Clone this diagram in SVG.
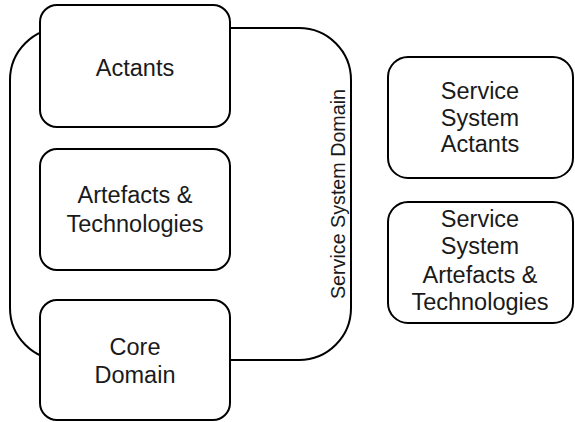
<svg xmlns="http://www.w3.org/2000/svg" width="575" height="422" viewBox="0 0 575 422">
<style>
.box{fill:#fff;stroke:#000;stroke-width:2}
.dom{fill:none;stroke:#000;stroke-width:2}
text{font-family:"Liberation Sans",Arial,sans-serif;font-size:23.5px;fill:#1a1a1a;text-anchor:middle}
.v{font-size:19.7px}
</style>
<rect width="575" height="422" fill="#fff"/>
<g id="service-system-domain">
<rect class="dom" x="10" y="28" width="341" height="332" rx="52" ry="52"/>
<text class="v" transform="translate(345,194) rotate(-90)">Service System Domain</text>
</g>
<g id="connectors"></g>
<g id="actants">
<rect class="box" x="40" y="5" width="190" height="122" rx="17"/>
<text x="135" y="76">Actants</text>
</g>
<g id="artefacts">
<rect class="box" x="40" y="149" width="190" height="121" rx="17"/>
<text x="135" y="203">Artefacts &amp;</text>
<text x="135" y="232">Technologies</text>
</g>
<g id="core-domain">
<rect class="box" x="40" y="300" width="190" height="120" rx="17"/>
<text x="135" y="355">Core</text>
<text x="135" y="383">Domain</text>
</g>
<g id="ss-actants">
<rect class="box" x="388" y="57" width="185" height="121" rx="20"/>
<text x="480" y="99">Service</text>
<text x="480" y="126">System</text>
<text x="480" y="152">Actants</text>
</g>
<g id="ss-artefacts">
<rect class="box" x="388" y="202" width="185" height="121" rx="20"/>
<text x="480" y="227">Service</text>
<text x="480" y="254">System</text>
<text x="480" y="283">Artefacts &amp;</text>
<text x="480" y="310">Technologies</text>
</g>
</svg>
